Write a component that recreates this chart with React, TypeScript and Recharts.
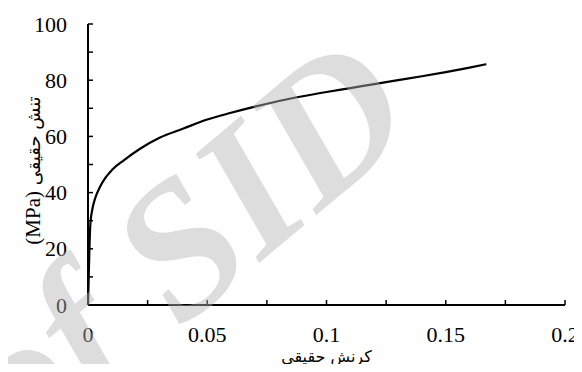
import React from 'react';
import { LineChart, Line, XAxis, YAxis, Label } from 'recharts';

const strain = [0, 0.0003, 0.0006, 0.001, 0.0018, 0.003, 0.005, 0.0075, 0.01, 0.015, 0.022, 0.03, 0.04, 0.05, 0.06, 0.07, 0.08, 0.09, 0.1, 0.11, 0.12, 0.13, 0.14, 0.15, 0.16, 0.167];
const stress = [0, 10, 20, 29, 34, 38, 42, 45.5, 48, 51.5, 55.7, 59.5, 62.8, 66, 68.4, 70.6, 72.6, 74.3, 75.8, 77.2, 78.6, 80, 81.4, 82.9, 84.5, 85.7];

const xTicks = [0, 0.025, 0.05, 0.075, 0.1, 0.125, 0.15, 0.175, 0.2];
const xLabels = ['0', '', '0.05', '', '0.1', '', '0.15', '', '0.2'];
const yTicks = [0, 10, 20, 30, 40, 50, 60, 70, 80, 90, 100];
const yLabels = ['0', '', '20', '', '40', '', '60', '', '80', '', '100'];

const xTitle = 'کرنش حقیقی';
const yUnit = '(MPa)';
const yTitle = 'تنش حقیقی';
const watermark = 'of SID';

const data = strain.map((x, i) => ({ x, y: stress[i] }));

const FONT = '"Liberation Serif", "Times New Roman", serif';
const AR_FONT = '"DejaVu Sans", sans-serif';
const M = 10;

const XTick = (props: any) => {
  const { x, y, index } = props;
  const axisY = y - M;
  return (
    <g>
      <line x1={x} y1={axisY} x2={x} y2={axisY - 5} stroke="#000" strokeWidth={1.5} />
      <text x={x} y={axisY + 37} textAnchor="middle" fontFamily={FONT} fontSize={22} fill="#000">
        {xLabels[index]}
      </text>
    </g>
  );
};

const YTick = (props: any) => {
  const { x, y, index } = props;
  const axisX = x + M;
  return (
    <g>
      <line x1={axisX} y1={y} x2={axisX + 5} y2={y} stroke="#000" strokeWidth={1.5} />
      <text x={axisX - 21} y={y + 7.5} textAnchor="end" fontFamily={FONT} fontSize={22} fill="#000">
        {yLabels[index]}
      </text>
    </g>
  );
};

export default function App() {
  return (
    <div style={{ margin: -8, position: 'relative', width: 582, height: 372, background: '#fff', overflow: 'hidden' }}>
      <LineChart width={582} height={372} data={data} margin={{ top: 24, right: 17, left: 0, bottom: 0 }}>
        <XAxis
          dataKey="x"
          type="number"
          domain={[0, 0.2]}
          ticks={xTicks}
          interval={0}
          height={67}
          tickSize={0}
          tickLine={false}
          tickMargin={M}
          tick={<XTick />}
          axisLine={{ stroke: '#000', strokeWidth: 2 }}
        >
          <Label
            content={(p: any) => (
              <text
                x={p.viewBox.x + p.viewBox.width / 2}
                y={p.viewBox.y + 57}
                textAnchor="middle"
                fontFamily={AR_FONT}
                fontSize={16}
                fill="#000"
              >
                {xTitle}
              </text>
            )}
          />
        </XAxis>
        <XAxis xAxisId="top" orientation="top" type="number" domain={[0, 0.2]} height={0} tick={false} tickLine={false} axisLine={{ stroke: '#000', strokeWidth: 2 }} />
        <YAxis
          type="number"
          domain={[0, 100]}
          ticks={yTicks}
          interval={0}
          width={88}
          tickSize={0}
          tickLine={false}
          tickMargin={M}
          tick={<YTick />}
          axisLine={{ stroke: '#000', strokeWidth: 2 }}
        >
          <Label
            content={(p: any) => {
              const cx = 40;
              const cy = p.viewBox.y + p.viewBox.height / 2 + 6;
              return (
                <text
                  x={cx}
                  y={cy}
                  transform={`rotate(-90 ${cx} ${cy})`}
                  textAnchor="middle"
                  fontSize={21}
                  fill="#000"
                >
                  <tspan fontFamily={FONT}>{yUnit}</tspan>
                  <tspan fontFamily={AR_FONT} fontSize={18}>{' ' + yTitle}</tspan>
                </text>
              );
            }}
          />
        </YAxis>
        <YAxis yAxisId="right" orientation="right" type="number" domain={[0, 100]} width={0} tick={false} tickLine={false} axisLine={{ stroke: '#000', strokeWidth: 2 }} />
        <Line
          dataKey="y"
          type="monotone"
          stroke="#000"
          strokeWidth={2.2}
          dot={false}
          isAnimationActive={false}
        />
      </LineChart>
      <svg width={582} height={372} style={{ position: 'absolute', left: 0, top: 0, pointerEvents: 'none' }}>
        <text
          x={0}
          y={0}
          transform="translate(22 462) rotate(-40)"
          fontFamily={FONT}
          fontWeight="bold"
          fontStyle="italic"
          fontSize={190}
          fill="rgb(180,180,180)"
          fillOpacity={0.45}
        >
          {watermark}
        </text>
      </svg>
    </div>
  );
}
